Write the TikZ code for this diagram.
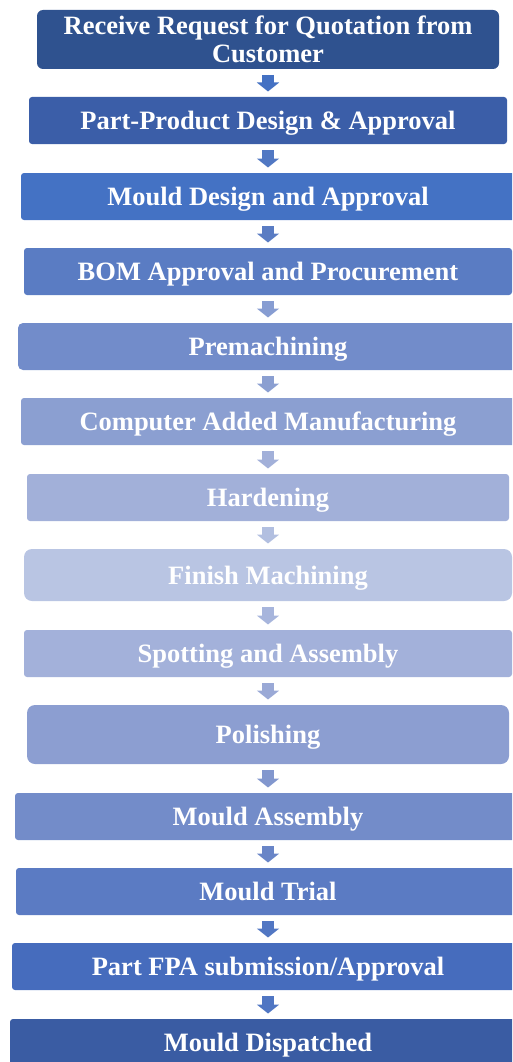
\documentclass[tikz,border=0pt]{standalone}
\usepackage{fontspec}
\setmainfont{Liberation Serif}
\usetikzlibrary{arrows.meta}
\definecolor{cA}{HTML}{2F528F}
\definecolor{cB}{HTML}{3B5EA8}
\definecolor{cC}{HTML}{4472C4}
\definecolor{cD}{HTML}{5A7CC3}
\definecolor{cE}{HTML}{728CCA}
\definecolor{cF}{HTML}{8B9FD1}
\definecolor{cG}{HTML}{A2B0D9}
\definecolor{cH}{HTML}{B9C5E3}
\definecolor{cI}{HTML}{A3B1DA}
\definecolor{cJ}{HTML}{8C9ED1}
\definecolor{cK}{HTML}{738CC9}
\definecolor{cL}{HTML}{5B7BC3}
\definecolor{cM}{HTML}{466CBD}
\definecolor{cN}{HTML}{3A5CA3}
\begin{document}
\begin{tikzpicture}[x=1pt, y=-1pt,
    box/.style={rounded corners=3pt, inner sep=0pt, outer sep=0pt, minimum height=47pt,
      text=white, align=center, font=\bfseries\fontsize{26.5}{28}\selectfont},
    stage/.style={box, text height=18pt, text depth=0pt},
    flow/.style={line width=12pt, shorten <=6pt, shorten >=5.5pt,
      -{Triangle[width=22pt, length=9pt]}}]
  \clip (0,0) rectangle (512,1062);
  \node[box, fill=cA, minimum width=462pt, minimum height=59pt, rounded corners=6pt] (rfq) at (268,39.5) {Receive Request for Quotation from\\Customer};
  \node[stage, fill=cB, minimum width=478pt] (part) at (268,120.5) {Part-Product Design \& Approval};
  \node[stage, fill=cC, minimum width=494pt] (mdesign) at (268,196.5) {Mould Design and Approval};
  \node[stage, fill=cD, minimum width=488pt] (bom) at (268,271.5) {BOM Approval and Procurement};
  \node[stage, fill=cE, minimum width=500pt, rounded corners=5pt] (premach) at (268,346.5) {Premachining};
  \node[stage, fill=cF, minimum width=494pt] (cam) at (268,421.5) {Computer Added Manufacturing};
  \node[stage, fill=cG, minimum width=482pt] (harden) at (268,497.5) {Hardening};
  \node[stage, fill=cH, minimum width=488pt, minimum height=52pt, rounded corners=8pt] (finish) at (268,575) {Finish Machining};
  \node[stage, fill=cI, minimum width=488pt] (spot) at (268,653.5) {Spotting and Assembly};
  \node[stage, fill=cJ, minimum width=482pt, minimum height=59pt, rounded corners=8pt] (polish) at (268,734.5) {Polishing};
  \node[stage, fill=cK, minimum width=506pt] (massy) at (268,816.5) {Mould Assembly};
  \node[stage, fill=cL, minimum width=504pt] (trial) at (268,891.5) {Mould Trial};
  \node[stage, fill=cM, minimum width=512pt] (fpa) at (268,966.5) {Part FPA submission/Approval};
  \node[stage, fill=cN, minimum width=516pt] (dispatch) at (268,1042.5) {Mould Dispatched};
  % block arrows between the stages
  \draw[flow, draw=cC!95!cB, fill=cC] (rfq) -- (part);
  \draw[flow, draw=cD!60!cC] (part) -- (mdesign);
  \draw[flow, draw=cD] (mdesign) -- (bom);
  \draw[flow, draw=cE!85!white] (bom) -- (premach);
  \draw[flow, draw=cF] (premach) -- (cam);
  \draw[flow, draw=cG] (cam) -- (harden);
  \draw[flow, draw=cH!70!cG] (harden) -- (finish);
  \draw[flow, draw=cI!80!cH] (finish) -- (spot);
  \draw[flow, draw=cI!60!cJ] (spot) -- (polish);
  \draw[flow, draw=cJ!60!cK] (polish) -- (massy);
  \draw[flow, draw=cK!60!cL] (massy) -- (trial);
  \draw[flow, draw=cL!60!cC] (trial) -- (fpa);
  \draw[flow, draw=cL!50!cC] (fpa) -- (dispatch);
\end{tikzpicture}
\end{document}
